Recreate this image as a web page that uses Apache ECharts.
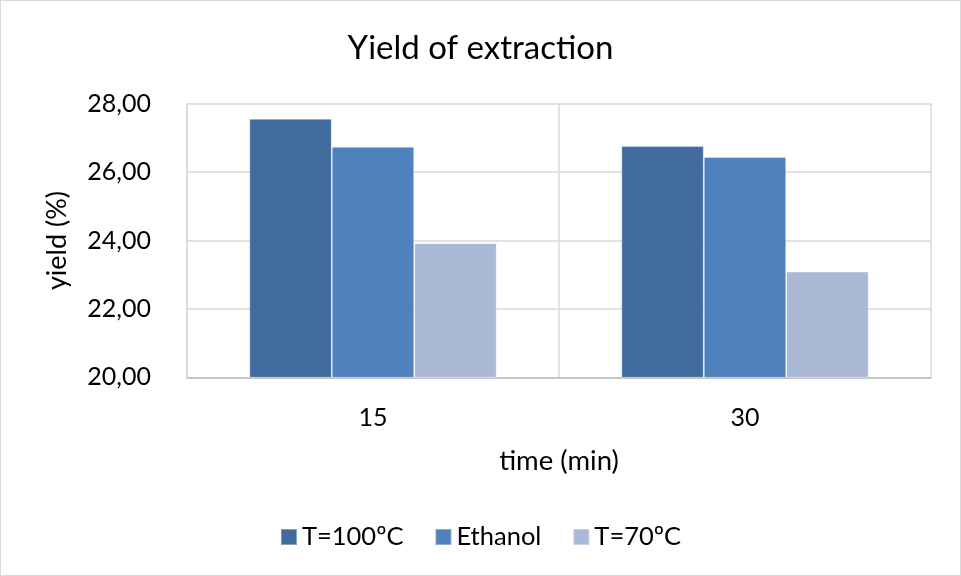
<!DOCTYPE html>
<html>
<head>
<meta charset="utf-8">
<script src="https://cdn.jsdelivr.net/npm/echarts@6/dist/echarts.min.js"></script>
<style>
html,body{margin:0;padding:0;background:#fff;}
#c{width:961px;height:576px;box-sizing:border-box;border:1px solid #d9d9d9;}
</style>
</head>
<body>
<div id="c"></div>
<script>
const categories = ['15', '30'];
const seriesNames = ['T=100ºC', 'Ethanol', 'T=70ºC'];
const t100 = [27.56, 26.76];
const ethanol = [26.74, 26.44];
const t70 = [23.92, 23.09];
const yTicks = [20, 22, 24, 26, 28];
const colors = ['#416B9C', '#4F81BD', '#AAB9D6'];

const chart = echarts.init(document.getElementById('c'), null, {renderer: 'canvas'});
const font = 'Lato, "Open Sans", sans-serif';
const vals = [t100, ethanol, t70];
chart.setOption({
  animation: false,
  textStyle: {fontFamily: font},
  title: {
    text: 'Yield of extraction',
    left: 'center',
    top: 26,
    textStyle: {fontFamily: font, fontSize: 33, fontWeight: 'normal', color: '#000'}
  },
  legend: {
    bottom: 20,
    left: 'center',
    itemWidth: 16,
    itemHeight: 16,
    itemGap: 31,
    icon: 'rect',
    textStyle: {fontFamily: font, fontSize: 25.5, color: '#000'},
    data: seriesNames
  },
  grid: {left: 186, right: 29, top: 102.7, bottom: 197.7},
  xAxis: {
    type: 'category',
    data: categories,
    name: 'time (min)',
    nameLocation: 'middle',
    nameGap: 70,
    nameTextStyle: {fontFamily: font, fontSize: 27.5, color: '#000'},
    axisLine: {lineStyle: {color: '#bfbfbf', width: 1.5}},
    axisTick: {show: false},
    axisLabel: {fontFamily: font, fontSize: 25, color: '#000', margin: 28},
    splitLine: {show: true, lineStyle: {color: '#d9d9d9', width: 1.5}}
  },
  yAxis: {
    type: 'value',
    min: yTicks[0],
    max: yTicks[yTicks.length - 1],
    interval: 2,
    name: 'yield (%)',
    nameLocation: 'middle',
    nameRotate: 90,
    nameGap: 116,
    nameTextStyle: {fontFamily: font, fontSize: 27, color: '#000'},
    axisLine: {show: true, lineStyle: {color: '#d9d9d9', width: 1.5}},
    axisTick: {show: false},
    axisLabel: {
      fontFamily: font, fontSize: 25, color: '#000', margin: 36,
      formatter: v => v.toFixed(2).replace('.', ',')
    },
    splitLine: {lineStyle: {color: '#d9d9d9', width: 1.5}}
  },
  series: seriesNames.map((n, i) => ({
    name: n,
    type: 'bar',
    data: vals[i],
    barGap: '0%',
    barCategoryGap: '33.5%',
    itemStyle: {color: colors[i], borderColor: 'rgba(255,255,255,0.35)', borderWidth: 1}
  }))
});
</script>
</body>
</html>
